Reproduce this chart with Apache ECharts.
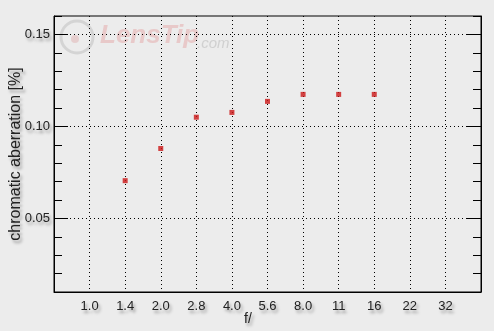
<!DOCTYPE html>
<html>
<head>
<meta charset="utf-8">
<script src="https://cdn.jsdelivr.net/npm/echarts@6/dist/echarts.min.js"></script>
<style>html,body{margin:0;padding:0;background:#ececec;}#c{width:494px;height:331px;}</style>
</head>
<body>
<div id="c"></div>
<script>
const fLabels = ['1.0','1.4','2.0','2.8','4.0','5.6','8.0','11','16','22','32'];
const aberration = [null, 0.0705, 0.088, 0.105, 0.1076, 0.1136, 0.1174, 0.1174, 0.1174, null, null];
const majorTicks = [0.05, 0.10, 0.15];

const data = [];
fLabels.forEach((l, i) => { if (aberration[i] !== null) data.push([i + 1, aberration[i]]); });

const shadow = { textShadowColor: 'rgba(0,0,0,0.35)', textShadowBlur: 3, textShadowOffsetX: 2, textShadowOffsetY: 3 };
const font = { fontFamily: 'Liberation Sans, Arial, sans-serif', fontSize: 13, color: '#222' };

const chart = echarts.init(document.getElementById('c'));
const yBase = { type: 'value', min: 0.01, max: 0.16, interval: 0.01, splitLine: { show: false } };
chart.setOption({
  backgroundColor: '#ececec',
  animation: false,
  grid: { left: 54, right: 13, top: 16, bottom: 39, show: true, borderColor: '#000', borderWidth: 1, backgroundColor: 'transparent', containLabel: false, outerBoundsMode: 'none' },
  graphic: [
    { type: 'circle', shape: { cx: 77, cy: 37, r: 16 }, style: { fill: 'none', stroke: 'rgba(170,170,170,0.35)', lineWidth: 3 }, z: 0 },
    { type: 'circle', shape: { cx: 75, cy: 39, r: 4 }, style: { fill: 'rgba(225,170,170,0.45)' }, z: 0 },
    { type: 'text', left: 100, top: 23, style: { text: 'LensTip', font: 'italic bold 26px Liberation Sans Narrow, Liberation Sans, Arial', fill: 'rgba(232,195,195,0.85)' }, z: 0 },
    { type: 'text', left: 197, top: 36, style: { text: '.com', font: 'italic 15px Liberation Sans, Arial', fill: 'rgba(205,205,205,0.9)' }, z: 0 },
    { type: 'text', left: 244, top: 312, style: Object.assign({ text: 'f/', font: '14px Liberation Sans, Arial', fill: '#222' }, { textShadowColor: 'rgba(0,0,0,0.35)', textShadowBlur: 3, textShadowOffsetX: 2, textShadowOffsetY: 3 }) }
  ],
  xAxis: {
    type: 'value', min: 0, max: 12, interval: 1,
    axisLine: { show: true, lineStyle: { color: '#000', width: 1 } },
    axisTick: { show: false },
    axisLabel: Object.assign({ margin: 8, formatter: v => (v >= 1 && v <= fLabels.length) ? fLabels[v - 1] : '' }, font, shadow),
    splitLine: { show: true, lineStyle: { color: '#000', type: [1, 3], width: 1 } }
  },
  yAxis: [
    Object.assign({}, yBase, {
      position: 'left',
      name: 'chromatic aberration [%]', nameLocation: 'middle', nameGap: 30, nameMoveOverlap: false,
      nameTextStyle: Object.assign({}, font, { fontSize: 16 }, shadow),
      axisLine: { show: true, lineStyle: { color: '#000' } },
      axisTick: { show: true, inside: true, length: 14, customValues: majorTicks, lineStyle: { color: '#000' } },
      axisLabel: Object.assign({ customValues: majorTicks, margin: 4, formatter: v => v.toFixed(2) }, font, shadow)
    }),
    Object.assign({}, yBase, {
      position: 'left',
      axisLine: { show: false },
      axisTick: { show: true, inside: true, length: 8, lineStyle: { color: '#000' } },
      axisLabel: { show: false }
    }),
    Object.assign({}, yBase, {
      position: 'right',
      axisLine: { show: true, lineStyle: { color: '#000' } },
      axisTick: { show: true, inside: true, length: 14, customValues: majorTicks, lineStyle: { color: '#000' } },
      axisLabel: { show: false }
    }),
    Object.assign({}, yBase, {
      position: 'right',
      axisLine: { show: false },
      axisTick: { show: true, inside: true, length: 8, lineStyle: { color: '#000' } },
      axisLabel: { show: false }
    })
  ],
  series: [{
    type: 'scatter',
    data: data,
    symbol: 'rect',
    symbolSize: 5,
    itemStyle: { color: '#cc1616' },
    z: 5,
    markLine: {
      silent: true, symbol: 'none', label: { show: false },
      lineStyle: { color: '#000', type: [1, 3], width: 1 },
      data: majorTicks.map(v => ({ yAxis: v }))
    }
  }]
});
</script>
</body>
</html>
